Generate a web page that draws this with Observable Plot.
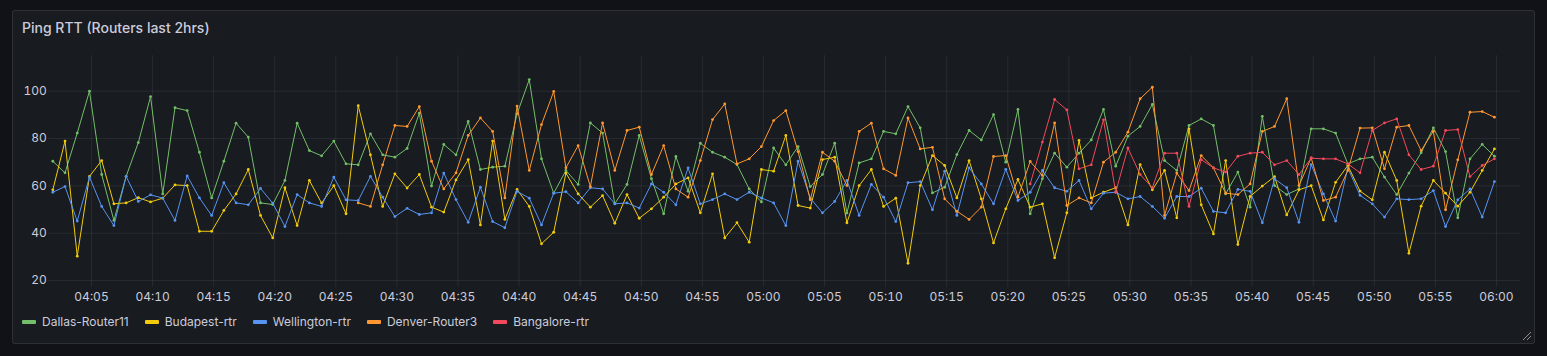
<!DOCTYPE html>
<html><head><meta charset="utf-8">
<script src="https://cdn.jsdelivr.net/npm/d3@7"></script>
<script src="https://cdn.jsdelivr.net/npm/@observablehq/plot@0.6"></script>
<style>
html,body{margin:0;padding:0;background:#111217;width:1547px;height:356px;overflow:hidden;font-family:Inter,"Noto Sans",sans-serif;}
#panel{position:absolute;left:12px;top:10px;width:1523px;height:334px;box-sizing:border-box;background:#181b1f;border:1px solid rgba(204,204,220,0.12);border-radius:3px;}
#title{position:absolute;left:22px;top:18px;font-size:14px;font-weight:500;color:#ccccdc;line-height:20px;white-space:nowrap;}
#chart{position:absolute;left:0;top:0;}
#legend{position:absolute;left:22px;top:314px;display:flex;align-items:center;font-size:12px;color:#ccccdc;line-height:16px;white-space:nowrap;}
.item{display:flex;align-items:center;margin-right:16px;}
.sw{width:14px;height:4px;border-radius:1px;margin-right:6px;}
#grip{position:absolute;left:1520px;top:329px;}
</style></head>
<body>
<div id="panel"></div>
<div id="title">Ping RTT (Routers last 2hrs)</div>
<div id="chart"></div>
<div id="legend"></div>
<svg id="grip" width="12" height="12"><path d="M11 3 L3 11 M11 7 L7 11" stroke="#8e8e9a" stroke-width="1"/></svg>
<script>
const seriesNames = ["Dallas-Router11","Budapest-rtr","Wellington-rtr","Denver-Router3","Bangalore-rtr"];
const seriesColors = ["#73BF69","#F2CC0C","#5794F2","#FF9830","#F2495C"];
const yTicks = [20,40,60,80,100];
const xTickLabels = ["04:05","04:10","04:15","04:20","04:25","04:30","04:35","04:40","04:45","04:50","04:55","05:00","05:05","05:10","05:15","05:20","05:25","05:30","05:35","05:40","05:45","05:50","05:55","06:00"];
const firstSample = "04:01:50";

const dallas = [70.4,65.5,82.3,100,64.8,45.4,64,78.3,97.7,56.6,
93,91.8,74.2,54.9,70.4,86.5,80.6,52.8,52.1,62.3,
86.5,74.9,72.7,78.9,69.3,68.9,82,73.1,72.1,75.8,
90.7,59.9,77.5,73.1,87.2,66.9,67.9,68.3,90.4,104.9,
71.4,56.9,66.5,60.6,86.6,82.3,52.4,60.6,81.3,63,
48.2,72.4,57.7,78,74.2,72.1,69,58.7,53.2,76,
68.9,76.6,59.7,64.8,78,48.5,69.7,71.4,83,82,
93.5,84.5,57,59.4,73.2,83.4,79.4,90.1,70,92.3,
48.2,63,73.8,67.9,73.8,79.4,92.3,68.3,81,85.1,
94.4,70.7,66.5,85.5,88.3,85.5,56.6,65.8,51,89.4,
60.1,56.3,58.7,84.1,84.1,82.3,69.3,71.4,72.1,63.7,
56.3,65.4,74,84.5,74.5,46.5,71.4,77.5,72.5];

const budapest = [58.3,78.9,30.3,64,70.7,52.4,52.8,55,53.2,54.8,
60.4,60.1,40.8,40.8,49.6,56.6,66.9,47.5,38,59.2,
43.2,62.3,52.7,60.1,48.2,93.9,73.1,51.3,65.1,59.1,
64.8,51,48.9,62.5,71.1,43.5,78.9,45.8,58.5,51.3,
35.5,40.4,65.4,56.6,51,55.9,44.2,56.3,46.3,50.3,
55.2,60.8,63.4,48.6,65.1,38,44.4,36.2,66.9,66.2,
81.3,51.7,50.6,71.1,72.1,44.4,60.1,66.9,51.3,54.8,
27.3,60.1,72.8,68.6,54.9,70.7,54.5,35.9,50.3,62.7,
51,52.4,29.6,48.6,79.2,54.9,57.3,59.2,43.5,69,
58.3,66.5,46.5,84.1,52,39.7,70.7,35.2,55.5,59.9,
63.9,47.7,58.3,60.1,45.6,61.5,68.6,57.8,54.1,74.2,
62.3,31.5,51.4,62.3,56.9,51.4,57.3,66.5,75.6];

const wellington = [57.3,59.7,45.1,63.7,51.3,43.2,64,53.4,56.2,54.8,
45.4,64.2,54.9,47.5,61.3,52.8,52,58.9,52.7,42.8,
56.3,52.8,51.3,63.7,54.1,53.8,64,55.2,47,50.5,
47.9,48.6,65.4,54.2,44.6,59.4,44.9,42.3,57.7,54.8,
43.5,56.9,57.5,52.8,59.2,58.7,52.4,52.8,50.6,60.8,
57.3,52,67.6,52.4,54.2,56.6,54.2,57.3,54.9,52.8,
43.2,70.4,54.8,48.6,53.4,62.3,47.5,60.6,55.2,44.9,
61.3,61.8,49.9,66.2,47.5,67.6,60.8,52.4,67,53.8,
57.3,66.5,59.2,57.7,62.3,50.3,56.9,57.3,54.5,55.5,
51.3,46.3,55.5,55.5,59,49.2,48.6,58.5,57.7,44.4,
63,59.2,44.6,69,56.6,45.1,67.6,56,52.4,46.8,
54.5,54.2,54.5,58,42.8,54.1,58.7,46.8,61.8];

const denver = [null,null,null,null,null,null,null,null,null,null,
null,null,null,null,null,null,null,null,null,null,
null,null,null,null,null,52.8,51.3,68.9,85.5,85.1,
93.5,70.4,58.7,65.5,81.3,88.7,83,54.9,93.7,66.5,
85.9,99.9,67.6,77,59.7,86.6,66.5,83.4,84.8,64.8,
77,58.7,55.2,70.7,88,94.6,69.3,71.4,76.6,87.6,
91.8,74.5,54.1,74.2,70.4,60.1,83,86.5,67.2,64.4,
88.7,75.6,76.3,54.5,49.3,45.8,51,72.4,72.8,55.2,
70.3,64.4,86.6,51.7,54.9,52.8,70,74.2,82.7,96.8,
101.7,47.5,65.4,58,72.8,67.6,56.9,56.3,60.8,83,
85.1,96.8,60.1,71.8,53.8,55.2,66.5,84.4,84.5,67.2,
84.8,85.5,74.9,83.1,49.9,71,91.1,91.4,89];

const bangalore = [null,null,null,null,null,null,null,null,null,null,
null,null,null,null,null,null,null,null,null,null,
null,null,null,null,null,null,null,null,null,null,
null,null,null,null,null,null,null,null,null,null,
null,null,null,null,null,null,null,null,null,null,
null,null,null,null,null,null,null,null,null,null,
null,null,null,null,null,null,null,null,null,null,
null,null,null,null,null,null,null,null,null,null,
60.8,78.5,96.5,92.1,67.2,68.9,87.9,57.3,76,64.8,
59.2,73.8,73.8,51.3,71.1,67.6,65.8,72.5,73.8,74.2,
68.9,70.7,64.8,71.7,71.4,71.4,69.3,65.5,83.4,86.6,
88.3,73.1,66.9,68.3,83.4,83.8,63.9,68.6,71.4];

const seriesValues = [dallas, budapest, wellington, denver, bangalore];

const parseT = d3.timeParse("%Y-%m-%d %H:%M:%S");
const day = "2024-01-01 ";
const t0 = parseT(day + firstSample);
const xTicks = xTickLabels.map(s => parseT(day + s + ":00"));

const data = [];
seriesValues.forEach((vals, i) => {
  vals.forEach((v, k) => {
    if (v != null) data.push({series: seriesNames[i], time: d3.timeMinute.offset(t0, k), value: v});
  });
});

const grid = "rgba(204,204,220,0.09)";
const marks = [
  Plot.gridY(yTicks, {stroke: grid, strokeOpacity: 1}),
  Plot.gridX(xTicks, {stroke: grid, strokeOpacity: 1}),
  Plot.axisY(yTicks, {tickSize: 0, tickPadding: 2, label: null, fill: "#ccccdc"}),
  Plot.axisX(xTicks, {tickSize: 0, tickPadding: 5, label: null, fill: "#ccccdc", tickFormat: d3.timeFormat("%H:%M")})
];
seriesNames.forEach((name, i) => {
  const d = data.filter(r => r.series === name);
  marks.push(Plot.line(d, {x: "time", y: "value", stroke: seriesColors[i], strokeWidth: 1}));
  marks.push(Plot.dot(d, {x: "time", y: "value", fill: seriesColors[i], r: 1.4, stroke: null}));
});

const chart = Plot.plot({
  width: 1547, height: 310,
  marginLeft: 48.24, marginRight: 26.6, marginTop: 55.2, marginBottom: 22.9,
  style: {background: "transparent", color: "#ccccdc", fontFamily: "Inter, 'Noto Sans', sans-serif", fontSize: "12px"},
  x: {type: "time", domain: [parseT(day + "04:01:30"), parseT(day + "06:02:00")]},
  y: {domain: [17, 115]},
  marks
});
document.getElementById("chart").appendChild(chart);

const legend = document.getElementById("legend");
seriesNames.forEach((name, i) => {
  const it = document.createElement("div"); it.className = "item";
  const sw = document.createElement("div"); sw.className = "sw"; sw.style.background = seriesColors[i];
  const tx = document.createElement("span"); tx.textContent = name;
  it.appendChild(sw); it.appendChild(tx); legend.appendChild(it);
});
</script>
</body></html>
